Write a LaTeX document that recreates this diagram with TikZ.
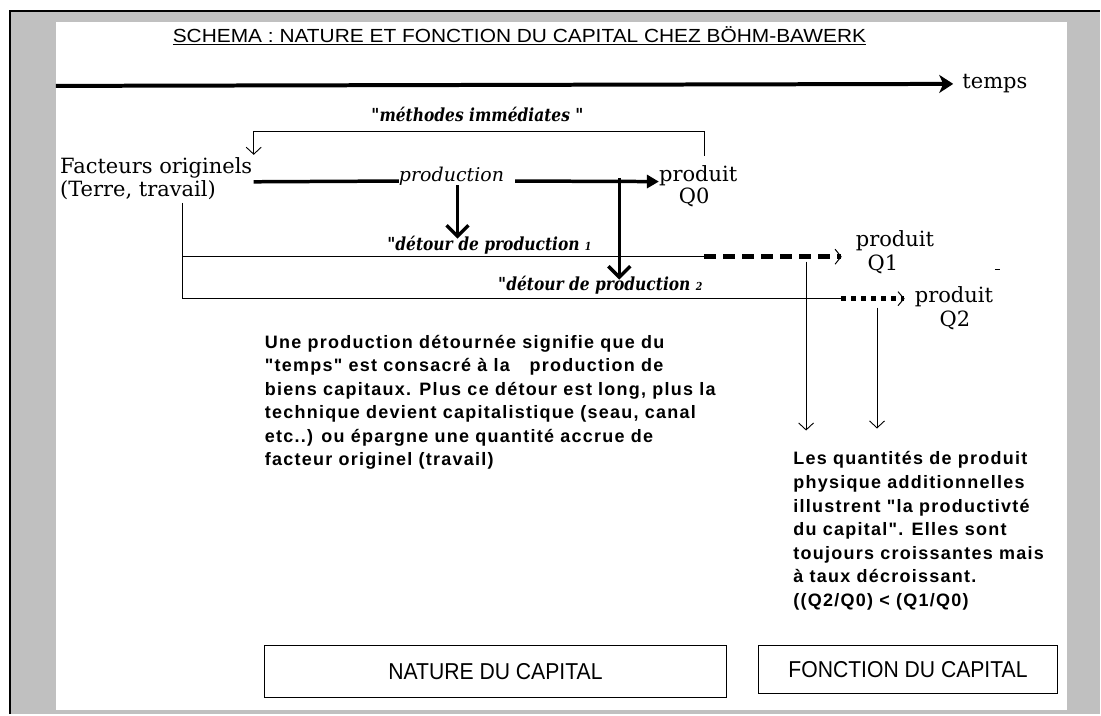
\documentclass[tikz,border=0pt]{standalone}
\usepackage{fontspec}
\setmainfont{DejaVu Serif}
\setsansfont{Liberation Sans}
\newfontfamily\parafont[LetterSpace=7]{Liberation Sans}
\newfontfamily\titlefont[FakeStretch=1.1]{Liberation Sans}
\newfontfamily\boxfont[FakeStretch=0.92]{Liberation Sans}
\newfontfamily\labelfont[FakeStretch=0.86]{DejaVu Serif}
\usetikzlibrary{arrows.meta}
\definecolor{pagegray}{HTML}{C0C0C0}

\begin{document}
\begin{tikzpicture}[x=1pt, y=-1pt,
    serif text/.style={font=\fontsize{21}{23}\selectfont},
    ital text/.style={font=\labelfont\fontsize{18}{20}\selectfont\bfseries\itshape},
    para text/.style={font=\parafont\bfseries\fontsize{18}{23.6}\selectfont, align=left, anchor=north west},
    box node/.style={draw, line width=1.3pt, font=\boxfont\fontsize{23}{25}\selectfont},
    heavy/.style={line width=3.5pt},
    thin line/.style={line width=0.9pt},
    thin arrow/.style={line width=0.9pt, -{Straight Barb[length=7pt,width=15pt]}},
    drop arrow/.style={heavy, -{Straight Barb[length=11pt,width=22pt]}}]
    \tikzstyle{every node}=[inner sep=0pt]

    % page and frame
    \fill[white] (0,0) rectangle (1101,715);
    \fill[pagegray] (10,11) rectangle (1101,715);
    \draw[line width=2.5pt] (10,715) -- (10,11) -- (1101,11);
    \fill[white] (56,22) rectangle (1068,711);
    \useasboundingbox (0,0) rectangle (1101,715);

    \node[font=\titlefont\fontsize{19}{22}\selectfont] (title) at (520,36)
      {\underline{SCHEMA : NATURE ET FONCTION DU CAPITAL CHEZ BÖHM-BAWERK}};

    % time axis
    \coordinate (t0) at (56,86);
    \node[serif text] (temps) at (996,84) {temps};
    \draw[line width=4pt, -{Stealth[length=14pt,width=18pt,inset=4pt]}] (t0) -- ([xshift=-9pt]temps.west);

    % immediate methods
    \node[ital text] (meth) at (478,115) {"méthodes immédiates "};
    \node[serif text, align=left, anchor=north west] (fact) at (60,158) {Facteurs originels\\(Terre, travail)};
    \node[font=\fontsize{19}{22}\selectfont\itshape] (prod) at (452,176) {production};
    \node[serif text] (prod0) at (699,176) {produit};
    \node[serif text] (q0) at (695,198) {Q0};
    \coordinate (b1) at (705,156);
    \coordinate (btop) at (480,132);
    \coordinate (b2) at (254,155);
    \draw[thin arrow] (b1) |- (btop) -| (b2);
    \coordinate (p0) at (254,182);
    \draw[heavy] (p0) -- (prod.base west);
    \draw[heavy, -{Triangle[length=12pt,width=13pt]}] ([xshift=11pt]prod.base east) -- (prod0.base west);

    % detours
    \coordinate (d1) at (458,239);
    \draw[drop arrow] (prod.south -| d1) -- (d1);
    \coordinate (j2) at (620,178);
    \coordinate (d2) at (620,280);
    \draw[drop arrow] (j2) -- (d2);
    \node[ital text] (det1) at (490,245) {"détour de production {\fontsize{11}{11}\selectfont 1}};
    \node[ital text] (det2) at (601,286) {"détour de production {\fontsize{11}{11}\selectfont 2}};

    \node[serif text] (prod1) at (896,241) {produit};
    \node[serif text] (q1) at (884,265) {Q1};
    \node[serif text] (prod2) at (955,297) {produit};
    \node[serif text] (q2) at (956,321) {Q2};

    \coordinate (f0) at (183,203);
    \coordinate (e1) at (705,257);
    \coordinate (e2) at (842,299);
    \draw[thin line] (f0) |- (e2);
    \draw[thin line] (f0 |- e1) -- (e1);
    \draw[line width=5.5pt, dash pattern=on 12pt off 7pt, shorten >=14pt,
      -{Straight Barb[length=6pt,width=15pt,line width=1pt]}] (e1) -- (prod1.west |- e1);
    \draw[line width=4.5pt, dash pattern=on 5pt off 5pt, shorten >=10pt,
      -{Straight Barb[length=6pt,width=14pt,line width=1pt]}] (e2) -- (prod2.west |- e2);
    \coordinate (m1) at (996,270);
    \draw[thin line] (m1) -- ++(5,0);

    % productivity arrows
    \coordinate (v1) at (807,262);
    \coordinate (v1e) at (807,431);
    \coordinate (v2) at (878,308);
    \coordinate (v2e) at (878,429);
    \draw[thin arrow] (v1) -- (v1e);
    \draw[thin arrow] (v2) -- (v2e);

    \node[para text] (nature txt) at (265,335) {Une production détournée signifie que du\\
      "temps" est consacré à la\hspace{1.1em}production de\\
      biens capitaux. Plus ce détour est long, plus la\\
      technique devient capitalistique (seau, canal\\
      etc..) ou épargne une quantité accrue de\\
      facteur originel (travail)};
    \node[para text] (fonction txt) at (794,452) {Les quantités de produit\\
      physique additionnelles\\
      illustrent "la productivté\\
      du capital". Elles sont\\
      toujours croissantes mais\\
      à taux décroissant.\\
      ((Q2/Q0) < (Q1/Q0)};

    \node[box node, minimum width=462pt, minimum height=52pt] (nature) at (496,672) {NATURE DU CAPITAL};
    \node[box node, minimum width=300pt, minimum height=48pt] (fonction) at (909,670) {FONCTION DU CAPITAL};
\end{tikzpicture}
\end{document}
